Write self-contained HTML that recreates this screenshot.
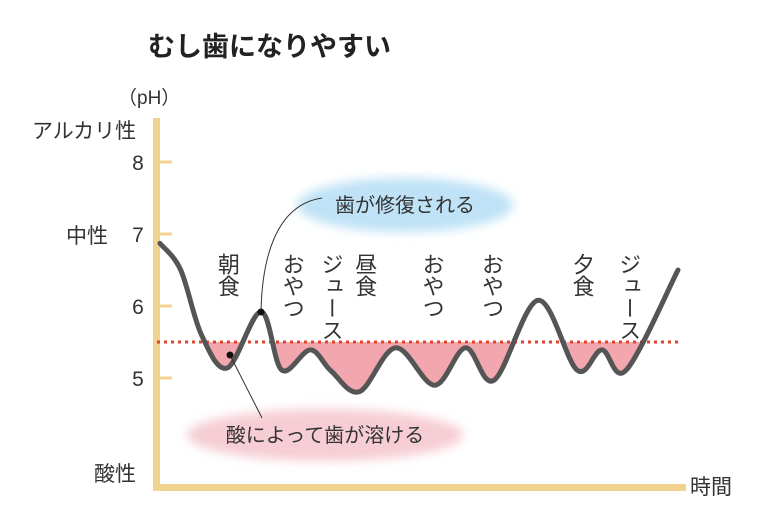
<!DOCTYPE html>
<html><head><meta charset="utf-8"><style>
body{margin:0;background:#fff}
svg{display:block;font-family:"Liberation Sans","Noto Sans CJK JP",sans-serif}
</style></head><body>
<svg width="768" height="529" viewBox="0 0 768 529">
<defs>
<filter id="blur" x="-20%" y="-40%" width="140%" height="180%"><feGaussianBlur stdDeviation="5"/></filter>
<clipPath id="below"><rect x="0" y="342" width="768" height="200"/></clipPath>
</defs>
<text x="148" y="56" font-size="27" font-weight="bold" fill="#222">むし歯になりやすい</text>
<text x="118" y="104" font-size="19" fill="#333">（pH）</text>
<text x="32" y="138" font-size="21" fill="#333">アルカリ性</text>
<text x="66" y="243" font-size="21" fill="#333">中性</text>
<text x="94" y="481" font-size="21" fill="#333">酸性</text>
<text x="690" y="494" font-size="21" fill="#333">時間</text>
<g id="yticks"></g>
<rect x="153" y="118" width="7" height="372" fill="#f0d390"/>
<rect x="153" y="484" width="533" height="7" fill="#f0d390"/>
<ellipse cx="405" cy="205" rx="108" ry="27" fill="#bfe2f6" filter="url(#blur)"/>
<text x="405" y="212" font-size="20" fill="#333" text-anchor="middle">歯が修復される</text>
<ellipse cx="325" cy="435" rx="138" ry="26" fill="#f6cdd4" filter="url(#blur)"/>
<text x="325" y="442" font-size="20" fill="#333" text-anchor="middle">酸によって歯が溶ける</text>
<path id="fill" clip-path="url(#below)" fill="#f2a7ae"/>
<line id="thr" x1="157" x2="682" stroke="#e0442c" stroke-width="3" stroke-dasharray="3,4"/>
<path id="curve" fill="none" stroke="#555" stroke-width="5" stroke-linecap="round"/>
<path d="M261,312 C262,260 275,205 322,198" fill="none" stroke="#333" stroke-width="1"/>
<circle cx="261" cy="312" r="3.5" fill="#111"/>
<line x1="230" y1="355" x2="262" y2="418" stroke="#333" stroke-width="1"/>
<circle cx="230" cy="355" r="3.5" fill="#111"/>
<g id="events"></g>
</svg>
<script>
const times=[0,4,8,13,19.5,23.5,29,33,38.5,45.5,53,59,64.5,73,80.5,85.3,90,100];
const phValues=[6.87,6.5,5.6,5.14,5.92,5.11,5.39,5.1,4.81,5.42,4.9,5.42,4.97,6.08,5.11,5.39,5.11,6.5];
const yTickLabels=[5,6,7,8];
const threshold=5.5;
const eventLabels=["朝食","おやつ","ジュース","昼食","おやつ","おやつ","夕食","ジュース"];
const eventTimes=[13,25.5,33,39.5,52.5,64,81.5,90.5];
const X=t=>160+t*5.18;
const Y=p=>378-(p-5)*72;
const NS="http://www.w3.org/2000/svg";
const pts=times.map((t,i)=>[X(t),Y(phValues[i])]);
let d="M"+pts[0][0]+","+pts[0][1];
for(let i=0;i<pts.length-1;i++){
  const p0=pts[Math.max(0,i-1)],p1=pts[i],p2=pts[i+1],p3=pts[Math.min(pts.length-1,i+2)];
  const c1=[p1[0]+(p2[0]-p0[0])/6,p1[1]+(p2[1]-p0[1])/6];
  const c2=[p2[0]-(p3[0]-p1[0])/6,p2[1]-(p3[1]-p1[1])/6];
  d+=` C${c1[0]},${c1[1]} ${c2[0]},${c2[1]} ${p2[0]},${p2[1]}`;
}
document.getElementById('curve').setAttribute('d',d);
const ty=Y(threshold);
document.getElementById('fill').setAttribute('d',d+` L${pts[pts.length-1][0]},${ty} L${pts[0][0]},${ty} Z`);
const thr=document.getElementById('thr');thr.setAttribute('y1',ty);thr.setAttribute('y2',ty);
const yt=document.getElementById('yticks');
yTickLabels.forEach(v=>{
  const l=document.createElementNS(NS,'line');
  l.setAttribute('x1',157);l.setAttribute('x2',172);l.setAttribute('y1',Y(v));l.setAttribute('y2',Y(v));
  l.setAttribute('stroke','#f0d390');l.setAttribute('stroke-width',3);
  
  
  yt.appendChild(l);
  const t=document.createElementNS(NS,'text');
  t.setAttribute('x',138);t.setAttribute('y',Y(v)+8);t.setAttribute('font-size',21);t.setAttribute('fill','#333');t.setAttribute('text-anchor','middle');
  t.textContent=v;
  
  
  yt.appendChild(t);
});
const ev=document.getElementById('events');
eventLabels.forEach((s,i)=>{
  const t=document.createElementNS(NS,'text');
  t.setAttribute('x',X(eventTimes[i]));t.setAttribute('y',253);
  t.setAttribute('font-size',22);t.setAttribute('fill','#333');
  t.setAttribute('writing-mode','tb');t.setAttribute('style','writing-mode:vertical-rl;glyph-orientation-vertical:0');
  t.textContent=s;
  
  
  ev.appendChild(t);
});
</script>
</body></html>
